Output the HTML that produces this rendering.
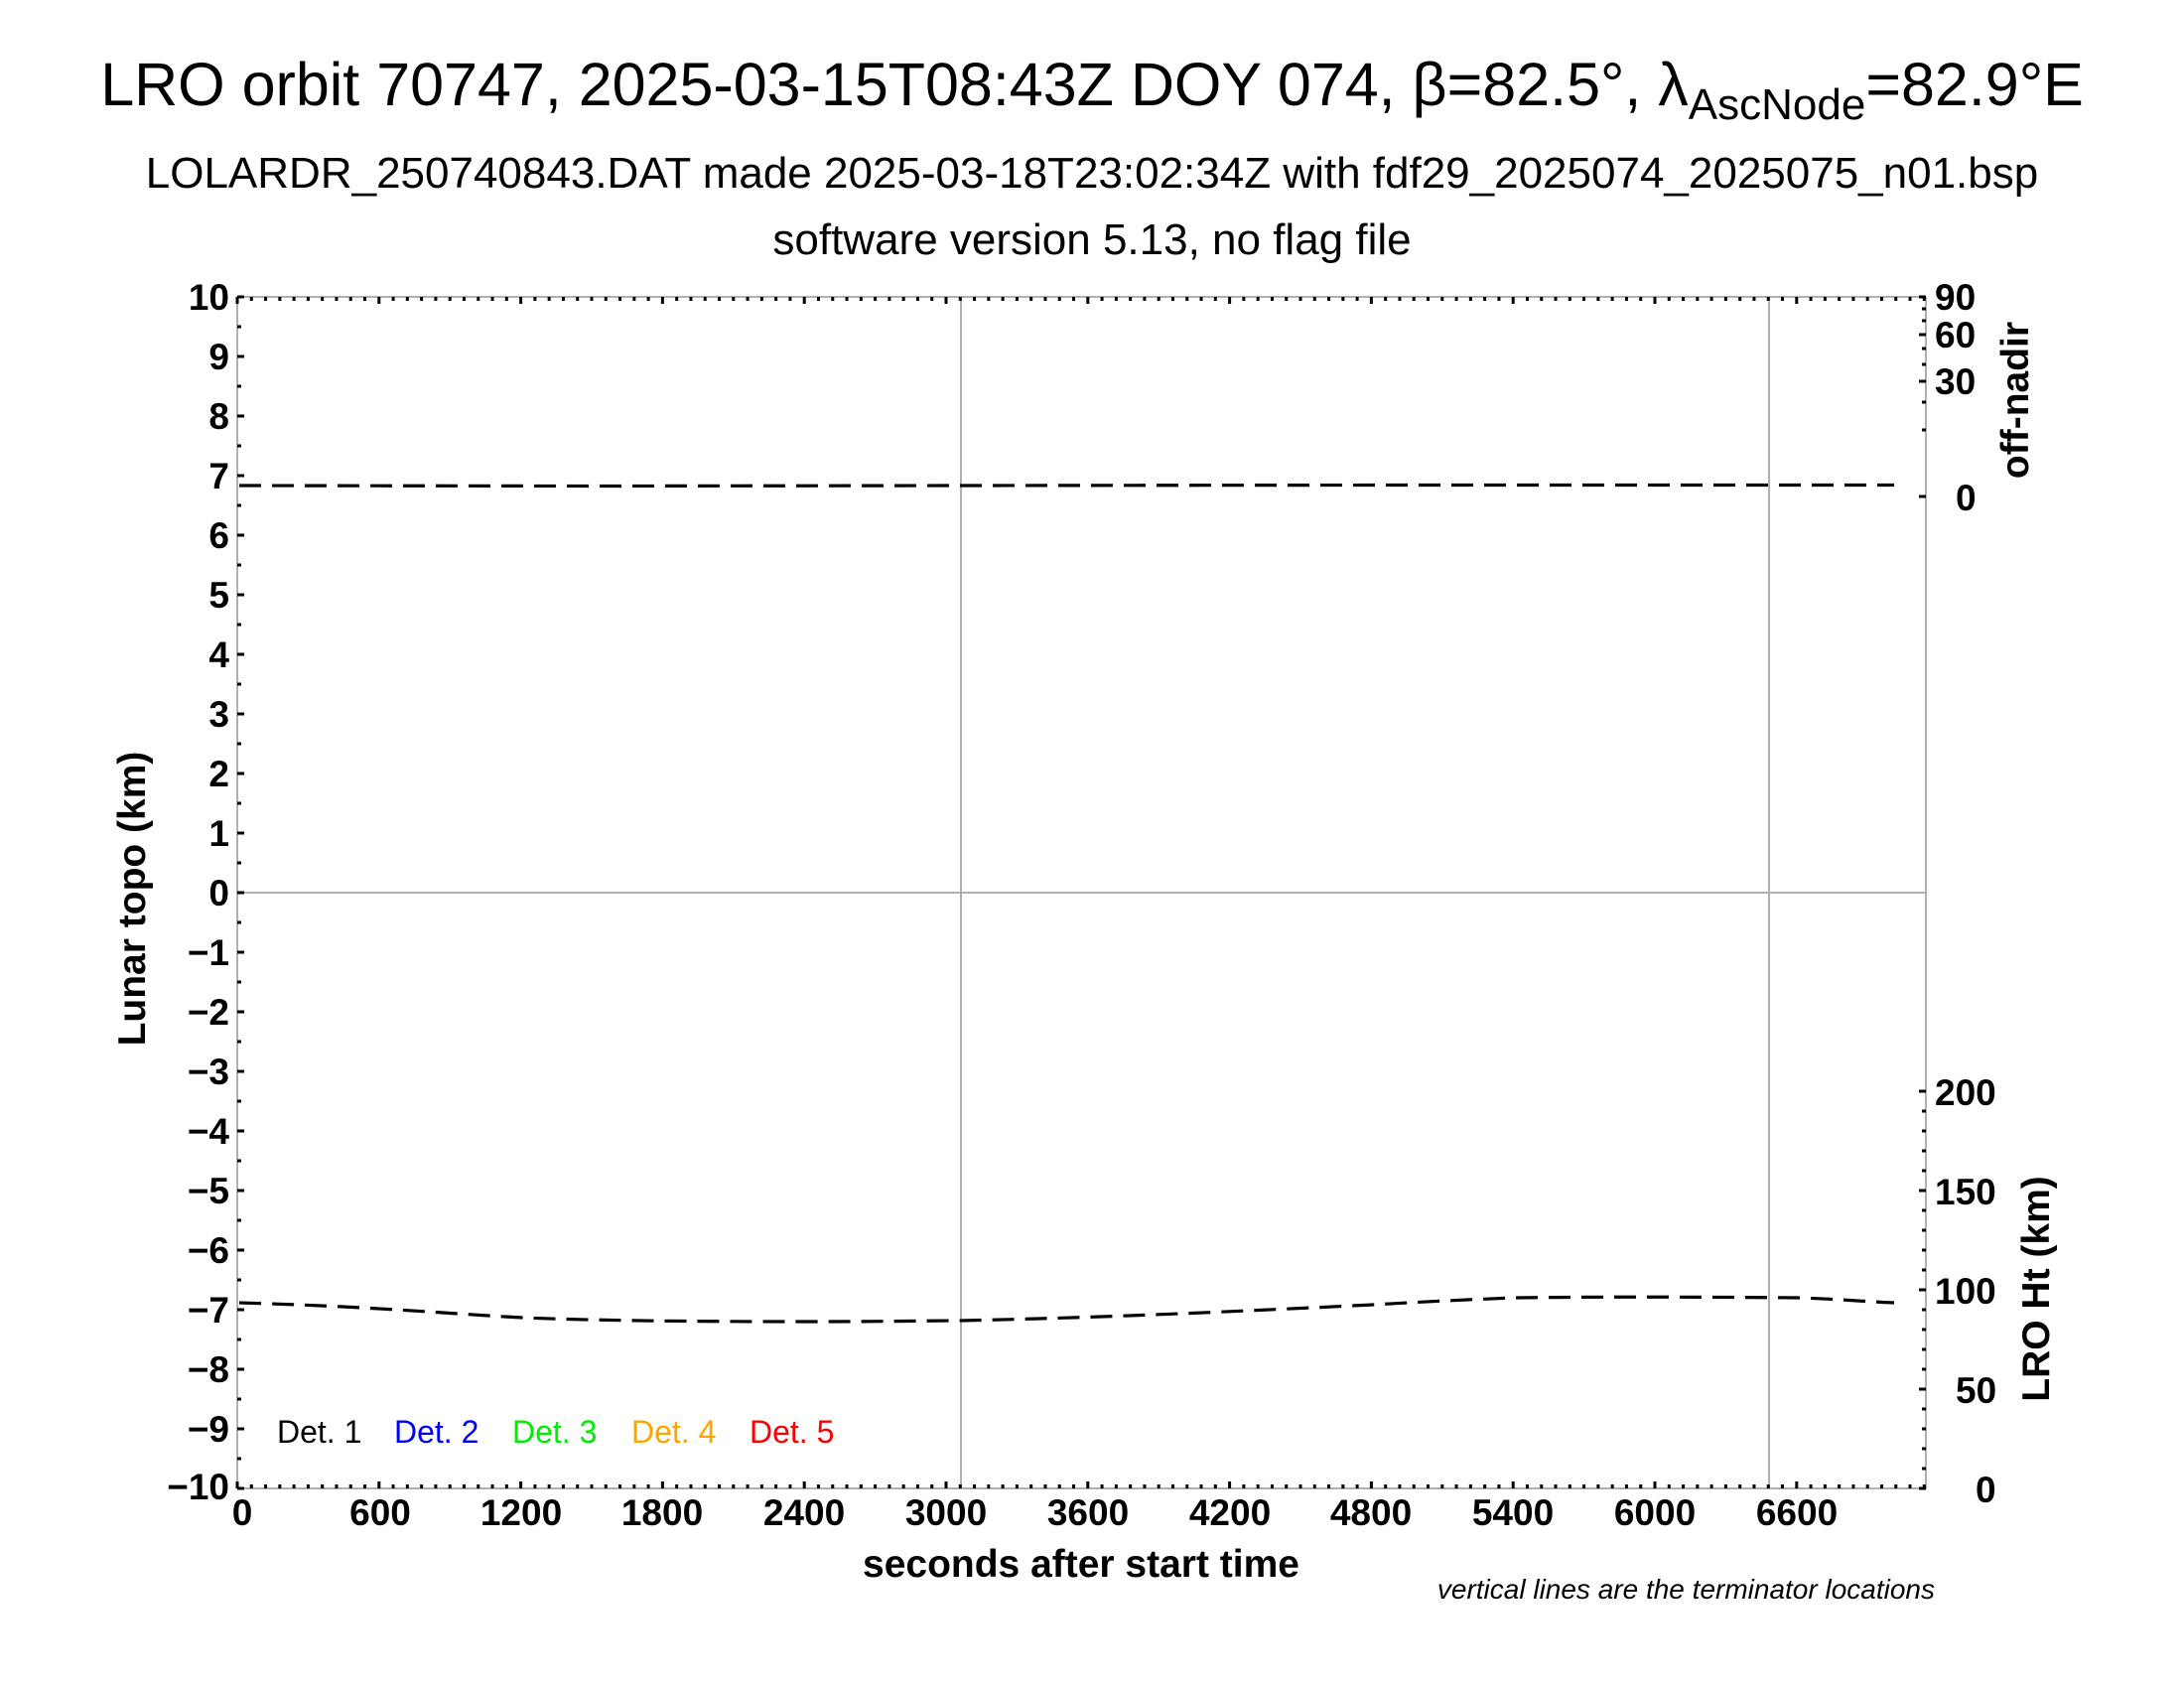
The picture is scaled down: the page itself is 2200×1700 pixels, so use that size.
<!DOCTYPE html>
<html><head><meta charset="utf-8"><style>
html,body{margin:0;padding:0;background:#fff;}
svg{display:block;font-family:"Liberation Sans",Arial,sans-serif;}
</style></head><body>
<svg width="2200" height="1700" viewBox="0 0 2200 1700" xmlns="http://www.w3.org/2000/svg">
<rect width="2200" height="1700" fill="#fff"/>
<text x="1100" y="106" font-size="61" text-anchor="middle">LRO orbit 70747, 2025-03-15T08:43Z DOY 074, β=82.5°, λ<tspan font-size="44" dy="14">AscNode</tspan><tspan dy="-14">=82.9°E</tspan></text>
<text x="1100" y="189" font-size="44" text-anchor="middle">LOLARDR_250740843.DAT made 2025-03-18T23:02:34Z with fdf29_2025074_2025075_n01.bsp</text>
<text x="1100" y="256" font-size="44" text-anchor="middle">software version 5.13, no flag file</text>

<g stroke="#b0b0b0" stroke-width="2" fill="none">
<line x1="239" y1="299" x2="1940" y2="299"/>
<line x1="239" y1="1499" x2="1940" y2="1499"/>
<line x1="239" y1="299" x2="239" y2="1499"/>
<line x1="1940" y1="299" x2="1940" y2="1499"/>
<line x1="239" y1="899" x2="1940" y2="899"/>
<line x1="968" y1="299" x2="968" y2="1499"/>
<line x1="1782" y1="299" x2="1782" y2="1499"/>
</g>

<g id="ticks" stroke="#000" stroke-width="3"></g>
<script>
(function(){
var g=document.getElementById('ticks'),ns='http://www.w3.org/2000/svg';
function L(x1,y1,x2,y2){var l=document.createElementNS(ns,'line');l.setAttribute('x1',x1);l.setAttribute('y1',y1);l.setAttribute('x2',x2);l.setAttribute('y2',y2);g.appendChild(l);}
var sx=0.238;
for(var s=0;s<=7140;s+=60){var x=239+s*sx;var big=(s%600==0);var len=big?7:4;L(x,1499,x,1499-len);L(x,299,x,299+len);}
for(var k=-20;k<=20;k++){var y=899-k*30;var len=(k%2==0)?7:4;L(239,y,239+len,y);}
for(var h=0;h<=200;h+=10){var y=1499-h*2;var len=(h%50==0)?7:4;L(1940,y,1940-len,y);}
[299,337,384,500].forEach(function(y){L(1940,y,1933,y);});
[311,323,351,367,405,433].forEach(function(y){L(1940,y,1936,y);});
})();
</script>

<g fill="none" stroke="#000" stroke-width="3.2" stroke-dasharray="22,11">
<path d="M241,489 L600,489.5 L968,489 L1400,488.5 L1908,488.5"/>
<path d="M241,1312 C380,1316 450,1323 526,1327 C600,1330 700,1331 811,1331 C900,1331 940,1330 968,1330 C1100,1327 1200,1323 1383,1314 C1450,1310 1500,1308 1526,1307 C1600,1306 1700,1306 1811,1307 C1850,1308 1880,1311 1908,1312"/>
</g>

<g font-size="37" font-weight="bold" text-anchor="end">
<text x="231" y="312">10</text><text x="231" y="372">9</text><text x="231" y="432">8</text><text x="231" y="492">7</text><text x="231" y="552">6</text><text x="231" y="612">5</text><text x="231" y="672">4</text><text x="231" y="732">3</text><text x="231" y="792">2</text><text x="231" y="852">1</text><text x="231" y="912">0</text>
<text x="231" y="972">−1</text><text x="231" y="1032">−2</text><text x="231" y="1092">−3</text><text x="231" y="1152">−4</text><text x="231" y="1212">−5</text><text x="231" y="1272">−6</text><text x="231" y="1332">−7</text><text x="231" y="1392">−8</text><text x="231" y="1452">−9</text><text x="231" y="1510">−10</text>
</g>
<g font-size="37" font-weight="bold" text-anchor="middle">
<text x="244" y="1536">0</text><text x="383" y="1536">600</text><text x="525" y="1536">1200</text><text x="667" y="1536">1800</text><text x="810" y="1536">2400</text><text x="953" y="1536">3000</text><text x="1096" y="1536">3600</text><text x="1239" y="1536">4200</text><text x="1381" y="1536">4800</text><text x="1524" y="1536">5400</text><text x="1667" y="1536">6000</text><text x="1810" y="1536">6600</text>
</g>
<g font-size="37" font-weight="bold">
<text x="1949" y="312">90</text><text x="1949" y="350">60</text><text x="1949" y="397">30</text><text x="1970" y="514">0</text>
<text x="1949" y="1113">200</text><text x="1949" y="1213">150</text><text x="1949" y="1313">100</text><text x="1970" y="1413">50</text><text x="1990" y="1513">0</text>
</g>
<text x="1089" y="1588" font-size="39" font-weight="bold" text-anchor="middle">seconds after start time</text>
<text transform="translate(146,905) rotate(-90)" font-size="39" font-weight="bold" text-anchor="middle">Lunar topo (km)</text>
<text transform="translate(2043,403) rotate(-90)" font-size="39" font-weight="bold" text-anchor="middle">off-nadir</text>
<text transform="translate(2064,1298) rotate(-90)" font-size="39" font-weight="bold" text-anchor="middle">LRO Ht (km)</text>
<text x="1949" y="1610" font-size="28" font-style="italic" text-anchor="end">vertical lines are the terminator locations</text>
<g font-size="32">
<text x="279" y="1453" fill="#000">Det. 1</text>
<text x="397" y="1453" fill="#0000ff">Det. 2</text>
<text x="516" y="1453" fill="#00ee00">Det. 3</text>
<text x="636" y="1453" fill="#ffa500">Det. 4</text>
<text x="755" y="1453" fill="#ff0000">Det. 5</text>
</g>
</svg>
</body></html>
